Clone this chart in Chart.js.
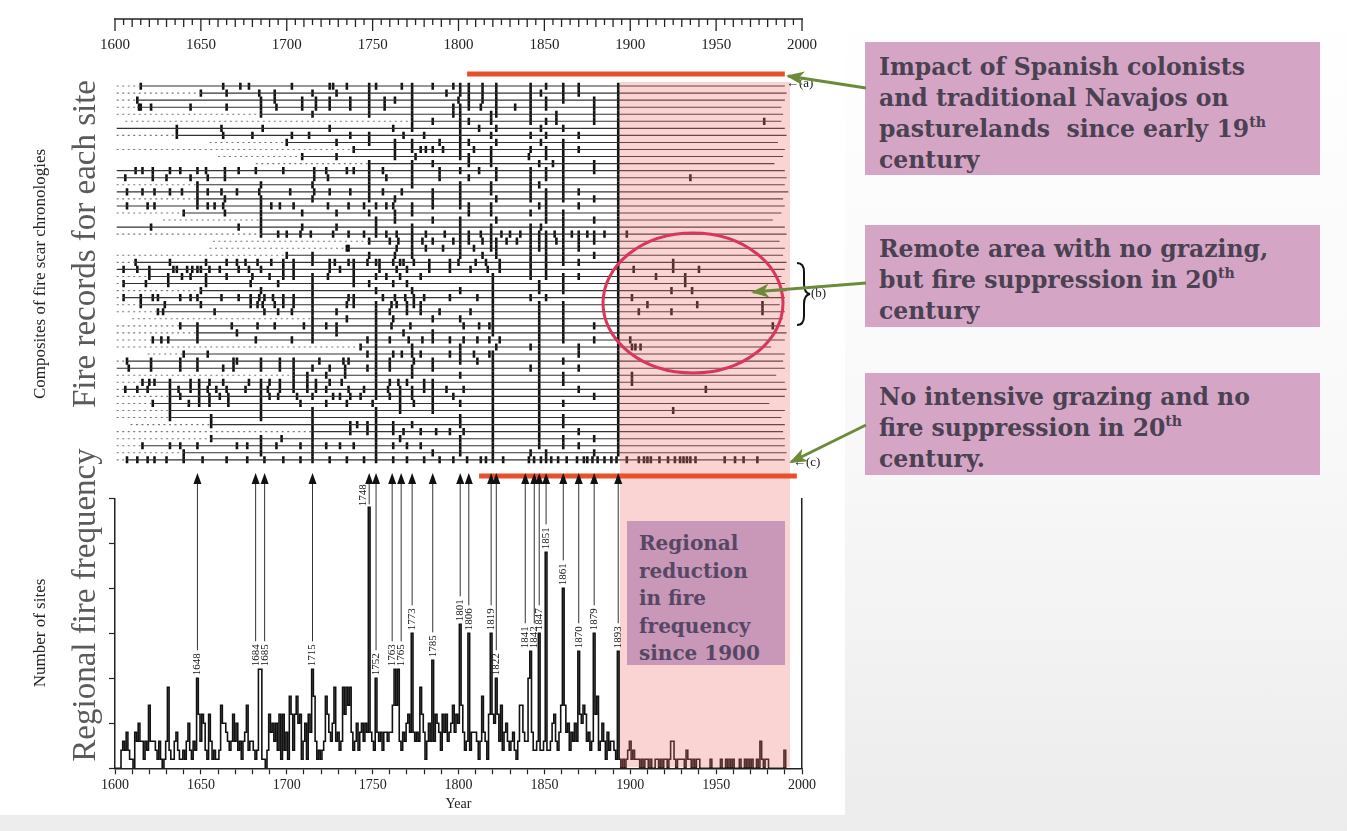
<!DOCTYPE html>
<html>
<head>
<meta charset="utf-8">
<script src="https://cdn.jsdelivr.net/npm/chart.js@4.4.0/dist/chart.umd.min.js"></script>
<style>
html, body { margin: 0; padding: 0; }
body { width: 1347px; height: 831px; overflow: hidden; position: relative;
       background: linear-gradient(#ffffff 0%, #f8f8f8 55%, #ececec 100%); }
#paper { position: absolute; left: 0; top: 0; width: 845px; height: 815px; background: #fff; }
canvas { position: absolute; left: 0; }
#topCanvas { top: 0; }
#botCanvas { top: 470px; }
.note { position: absolute; left: 865px; width: 455px; background: #d5a5c5; color: #4a4152;
        font: bold 23.5px/31px "DejaVu Serif", serif; padding: 10px 0 0 14px; box-sizing: border-box; white-space: nowrap; }
.note sup, .regional sup { font-size: 0.6em; line-height: 0; vertical-align: 0.7em; }
.regional { position: absolute; left: 627px; top: 521px; width: 158px; height: 144px; background: #c997b7;
            color: #564766; font: bold 20px/27.5px "DejaVu Serif", serif; padding: 9px 0 0 12px; box-sizing: border-box; white-space: nowrap; }
.rot { position: absolute; white-space: nowrap; transform: translate(-50%, -50%) rotate(-90deg);
       font-family: "Liberation Serif", serif; }
.small { position: absolute; font: 13px "Liberation Serif", serif; color: #222; white-space: nowrap; }
svg { position: absolute; left: 0; top: 0; }
</style>
</head>
<body>
<div id="paper"></div>
<canvas id="topCanvas" width="840" height="470"></canvas>
<canvas id="botCanvas" width="840" height="345"></canvas>

<div class="rot" style="left:84px; top:244px; font-size:33px; color:#5a5a5a;">Fire records for each site</div>
<div class="rot" style="left:84px; top:605px; font-size:33px; color:#5a5a5a;">Regional fire frequency</div>
<div class="rot" style="left:40px; top:274px; font-size:17px; color:#222;">Composites of fire scar chronologies</div>
<div class="rot" style="left:40px; top:633px; font-size:17px; color:#222;">Number of sites</div>

<div class="small" style="left:786px; top:75px;">&larr;(a)</div>
<div class="small" style="left:811px; top:285px;">(b)</div>
<div class="small" style="left:793px; top:454px;">&larr;(c)</div>

<div class="regional">Regional<br>reduction<br>in fire<br>frequency<br>since 1900</div>

<div class="note" style="top:42px; height:133px;">Impact of Spanish colonists<br>and traditional Navajos on<br>pasturelands&nbsp; since early 19<sup>th</sup><br>century</div>
<div class="note" style="top:225px; height:102px; padding-top:9px;">Remote area with no grazing,<br>but fire suppression in 20<sup>th</sup><br>century</div>
<div class="note" style="top:373px; height:102px; padding-top:9px;">No intensive grazing and no<br>fire suppression in 20<sup>th</sup><br>century.</div>

<svg width="1347" height="831">
  <defs>
    <marker id="ah" markerUnits="userSpaceOnUse" markerWidth="18" markerHeight="14" viewBox="0 0 18 14" refX="16" refY="7" orient="auto">
      <path d="M0,0 L18,7 L0,14 L5,7 z" fill="#6c8b3a"/>
    </marker>
  </defs>
  <ellipse cx="693" cy="303" rx="90" ry="70" fill="none" stroke="#d8365c" stroke-width="3"/>
  <path d="M797,263 q7,0 7,9 v12 q0,9 6,10 q-6,1 -6,10 v12 q0,9 -7,9" fill="none" stroke="#111" stroke-width="2"/>
  <line x1="866" y1="88" x2="788" y2="76" stroke="#6c8b3a" stroke-width="3" marker-end="url(#ah)"/>
  <line x1="866" y1="283" x2="753" y2="292" stroke="#6c8b3a" stroke-width="3" marker-end="url(#ah)"/>
  <line x1="866" y1="425" x2="791" y2="462" stroke="#6c8b3a" stroke-width="3" marker-end="url(#ah)"/>
</svg>

<script>
// ---- data ----

// fire record for each site (row 0 at the top)
const siteDotStart = [1601,1601,1601,1601,1601,1606,1601,1601,1655,1601,1660,1682,1601,1601,1601,1601,1601,1601,
                      1601,1628,1601,1601,1657,1655,1601,1601,1601,1601,1601,1601,1601,1601,1601,1610,1601,1601,
                      1601,1601,1619,1601,1601,1601,1601,1601,1601,1601,1601,1601,1609,1601,1601,1601,1601,1601];
const siteStart = [1615,1650,1613,1613,1685,1773,1601,1636,1700,1739,1709,1748,1601,1601,1648,1601,1648,1601,
                   1640,1685,1601,1685,1748,1735,1700,1612,1601,1620,1605,1650,1605,1615,1625,1715,1638,1648,
                   1622,1743,1640,1607,1601,1704,1616,1606,1632,1622,1632,1632,1656,1715,1656,1616,1640,1607];
const siteEnd = [1990,1991,1990,1988,1989,1988,1990,1991,1986,1990,1989,1984,1990,1991,1990,1992,1989,1990,
                 1988,1983,1990,1991,1987,1990,1989,1991,1990,1988,1990,1991,1990,1987,1990,1989,1990,1991,
                 1990,1982,1990,1989,1990,1985,1990,1991,1990,1981,1990,1988,1990,1989,1990,1990,1991,1990];
const siteFires = [
  [1615,1663,1673,1678,1703,1725,1727,1735,1748,1752,1767,1773,1785,1797,1801,1806,1814,1822,1842,1851,1861,1870,1893],
  [1650,1665,1684,1693,1715,1729,1748,1773,1793,1801,1806,1814,1822,1842,1848,1861,1870,1893],
  [1613,1685,1693,1709,1717,1725,1737,1748,1757,1763,1773,1800,1806,1814,1822,1842,1851,1861,1879,1893],
  [1614,1615,1621,1644,1665,1685,1694,1709,1717,1725,1737,1748,1757,1773,1797,1801,1806,1813,1822,1833,1842,1851,1879,1893],
  [1685,1715,1748,1773,1797,1801,1819,1822,1842,1857,1879,1893],
  [1773,1785,1801,1806,1819,1842,1851,1857,1879,1893,1978],
  [1636,1662,1686,1725,1762,1773,1801,1812,1822,1848,1861,1893],
  [1636,1663,1680,1703,1713,1737,1748,1768,1780,1801,1819,1842,1851,1870,1893],
  [1700,1729,1748,1763,1773,1789,1801,1806,1822,1848,1861,1893],
  [1739,1763,1773,1778,1781,1785,1791,1801,1809,1819,1842,1851,1861,1870,1893],
  [1709,1729,1763,1775,1801,1806,1819,1841,1851,1861,1893],
  [1748,1773,1785,1806,1819,1847,1855,1861,1879,1893],
  [1612,1616,1622,1632,1638,1648,1653,1664,1672,1682,1698,1716,1723,1735,1739,1748,1756,1773,1789,1801,1812,1822,1842,1851,1861,1879,1893],
  [1606,1622,1630,1644,1654,1664,1716,1724,1748,1758,1773,1789,1806,1822,1842,1851,1861,1893,1935],
  [1648,1685,1715,1748,1773,1801,1819,1842,1847,1861,1893],
  [1607,1616,1623,1632,1639,1648,1654,1662,1671,1684,1702,1716,1725,1737,1748,1756,1767,1785,1801,1819,1842,1851,1861,1870,1893],
  [1648,1664,1685,1715,1748,1763,1785,1801,1822,1842,1851,1861,1879,1893],
  [1607,1619,1623,1648,1654,1658,1663,1685,1691,1696,1704,1724,1736,1745,1752,1758,1762,1773,1785,1801,1806,1819,1847,1851,1870,1893],
  [1640,1664,1685,1709,1729,1748,1763,1773,1806,1819,1842,1851,1861,1893],
  [1685,1752,1763,1785,1801,1822,1851,1861,1879,1893],
  [1621,1672,1685,1709,1729,1752,1773,1801,1819,1842,1848,1861,1893],
  [1685,1695,1700,1708,1714,1727,1736,1745,1752,1758,1764,1773,1781,1792,1801,1806,1813,1819,1825,1830,1836,1842,1847,1851,1856,1861,1866,1870,1875,1879,1885,1893,1898],
  [1748,1760,1765,1773,1779,1785,1797,1801,1806,1814,1819,1822,1828,1834,1842,1847,1851,1857,1861,1870,1879,1893],
  [1735,1736,1764,1773,1781,1791,1801,1809,1819,1822,1842,1847,1851,1861,1870,1893],
  [1700,1715,1748,1763,1773,1801,1814,1822,1842,1851,1861,1879,1893],
  [1612,1632,1653,1665,1671,1676,1683,1691,1698,1704,1715,1725,1728,1736,1739,1747,1752,1754,1762,1766,1768,1774,1783,1795,1800,1810,1816,1824,1842,1851,1861,1870,1893,1925],
  [1605,1613,1620,1634,1636,1642,1645,1648,1650,1655,1661,1672,1678,1685,1698,1704,1725,1731,1739,1754,1764,1770,1783,1795,1807,1817,1824,1842,1851,1893,1902,1925,1940],
  [1620,1631,1639,1644,1653,1665,1680,1690,1698,1704,1715,1724,1739,1752,1758,1766,1778,1820,1842,1851,1861,1870,1893,1915,1932],
  [1605,1618,1631,1653,1679,1695,1715,1739,1748,1762,1770,1820,1847,1861,1893,1932],
  [1650,1685,1715,1752,1773,1801,1820,1847,1861,1893,1924,1936],
  [1605,1615,1622,1625,1638,1644,1648,1662,1672,1679,1684,1687,1692,1698,1704,1715,1736,1739,1756,1763,1769,1774,1780,1795,1811,1820,1842,1851,1893,1901],
  [1615,1629,1650,1679,1683,1686,1693,1698,1704,1715,1735,1739,1752,1761,1764,1770,1774,1778,1820,1847,1861,1893,1910,1939,1977],
  [1625,1628,1658,1687,1695,1703,1715,1729,1752,1760,1770,1778,1789,1807,1820,1847,1861,1893,1905,1924,1977],
  [1715,1735,1752,1762,1785,1801,1820,1847,1861,1893],
  [1638,1648,1668,1683,1693,1710,1715,1723,1729,1752,1761,1772,1803,1812,1818,1820,1847,1861,1879,1893,1983],
  [1648,1671,1715,1729,1752,1768,1785,1820,1847,1861,1893],
  [1622,1627,1631,1648,1682,1703,1715,1747,1752,1760,1771,1779,1785,1795,1803,1811,1818,1824,1847,1861,1879,1893,1900],
  [1743,1752,1773,1801,1822,1842,1847,1870,1893,1901,1903,1906],
  [1640,1654,1747,1752,1762,1767,1773,1778,1795,1801,1809,1818,1820,1847,1870,1893],
  [1607,1621,1638,1648,1669,1671,1685,1696,1704,1719,1733,1736,1752,1760,1774,1785,1801,1811,1820,1847,1861,1893],
  [1608,1621,1638,1648,1663,1669,1685,1696,1704,1715,1725,1734,1747,1752,1760,1773,1785,1820,1842,1847,1870,1893],
  [1704,1712,1723,1734,1752,1773,1801,1820,1847,1861,1893,1901],
  [1616,1620,1623,1632,1644,1649,1655,1663,1678,1685,1690,1696,1704,1712,1717,1725,1732,1752,1760,1765,1770,1780,1785,1820,1847,1861,1893,1901],
  [1606,1613,1619,1632,1637,1644,1649,1654,1659,1665,1676,1685,1689,1696,1704,1712,1717,1723,1736,1745,1752,1759,1766,1773,1780,1785,1793,1803,1820,1847,1870,1893,1944],
  [1632,1638,1649,1655,1661,1666,1685,1690,1695,1706,1715,1727,1731,1737,1743,1752,1760,1766,1773,1785,1797,1820,1847,1879,1893],
  [1622,1632,1643,1649,1655,1666,1685,1708,1723,1735,1750,1766,1774,1785,1801,1820,1847,1861,1893],
  [1632,1685,1715,1752,1766,1785,1820,1847,1893,1925],
  [1632,1656,1685,1715,1752,1801,1820,1847,1861,1893],
  [1656,1715,1737,1741,1747,1752,1762,1773,1801,1820,1847,1861,1893],
  [1715,1737,1747,1752,1762,1768,1778,1787,1795,1803,1820,1847,1870,1893],
  [1656,1685,1697,1715,1752,1766,1801,1820,1847,1861,1879,1893],
  [1616,1632,1638,1648,1671,1677,1685,1694,1708,1715,1723,1731,1739,1752,1762,1770,1778,1801,1820,1847,1861,1870,1893],
  [1640,1685,1715,1752,1785,1801,1820,1842,1851,1879,1893],
  [1607,1613,1619,1623,1630,1640,1651,1665,1677,1687,1698,1708,1715,1725,1735,1745,1752,1762,1770,1780,1789,1797,1805,1813,1816,1820,1826,1841,1844,1848,1851,1854,1858,1863,1869,1873,1875,1878,1881,1885,1889,1892,1898,1905,1908,1910,1912,1917,1922,1926,1929,1931,1933,1935,1938,1955,1961,1966,1974]
];

// regional fire frequency: number of sites recording a fire, one value per year from 1600
const countFirstYear = 1600;
const siteCounts = [
  0,0,0,0,2,3,2,4,2,1,   1,0,4,3,5,3,3,1,3,2,   7,3,3,3,2,1,3,1,0,1,   3,9,2,1,1,3,4,2,1,1,
  2,1,3,5,2,1,3,2,10,6,  3,6,5,2,1,6,3,1,2,1,   1,2,7,5,5,4,3,2,3,6,   3,5,2,3,1,3,4,7,2,3,
  3,2,1,2,11,11,1,1,0,2, 6,4,5,3,5,2,6,1,6,2,   4,1,8,6,2,6,8,5,6,1,   3,5,1,6,4,11,8,3,1,2,
  1,2,3,8,6,4,3,5,9,3,   4,2,3,9,6,9,7,9,4,2,   3,5,2,4,5,3,5,4,29,4,  3,2,10,4,3,4,2,4,4,3,
  4,4,7,11,7,11,3,2,4,3, 5,6,4,15,4,3,4,3,9,6,  4,1,3,5,3,12,3,6,5,4,  2,6,4,6,3,4,5,7,4,6,
  5,16,7,4,2,3,15,2,4,4, 4,3,1,3,8,4,3,1,6,15,  6,5,10,6,3,7,2,4,5,3,  2,3,4,2,1,3,7,7,4,3,
  3,10,13,4,2,2,3,15,2,2, 3,24,2,2,3,5,6,3,2,4, 7,20,7,4,5,2,4,3,5,3,  13,6,5,7,6,3,4,2,3,15,
  6,8,2,3,5,3,1,4,2,3,   3,2,1,13,1,0,1,0,1,2,  3,1,2,1,1,1,0,1,0,1,   1,0,1,0,0,1,1,0,1,0,
  1,1,0,1,3,3,1,0,1,1,   1,1,0,2,1,1,0,1,0,1,   1,0,0,0,0,0,0,1,0,0,   0,0,0,1,0,0,1,0,1,0,
  1,0,0,0,1,0,0,1,0,1,   0,1,0,0,1,0,3,1,0,1,   1,0,0,0,0,0,0,0,0,0,   2,0
];

// major regional fire years labelled above the peaks
const labelYears = [1648,1684,1685,1715,1748,1752,1763,1765,1773,1785,1801,1806,1819,1822,1841,1842,1847,1851,1861,1870,1879,1893];

// shaded 20th century band and the two red bars
const pinkFrom = 1894, pinkTo = 1993;
const redTop = [1805, 1990];
const redBottom = [1812, 1997];

Chart.defaults.font.family = '"Liberation Serif", serif';
Chart.defaults.color = '#222';

const PINK = 'rgba(240,110,110,0.30)';
const RED = '#e8502a';

// ---- top panel: one line per site, fire scars as short vertical bars ----
const datasets = [];
for (let i = 0; i < siteStart.length; i++) {
  if (siteDotStart[i] < siteStart[i]) {
    datasets.push({
      data: [{x: siteDotStart[i], y: i}, {x: siteStart[i], y: i}],
      showLine: true, borderColor: '#777', borderWidth: 1.1, borderDash: [2, 3.5], pointRadius: 0
    });
  }
  datasets.push({
    data: [{x: siteStart[i], y: i}, {x: siteEnd[i], y: i}],
    showLine: true, borderColor: '#333', borderWidth: 1.1, pointRadius: 0
  });
}
const scars = [];
siteFires.forEach((list, i) => list.forEach(yr => scars.push({x: yr, y: i})));
datasets.push({
  data: scars, pointStyle: 'line', pointRotation: 90, pointRadius: 3.6,
  pointBorderWidth: 2.6, pointBorderColor: '#111', showLine: false
});

const topDecor = {
  id: 'topDecor',
  afterDatasetsDraw(chart) {
    const ctx = chart.ctx, xs = chart.scales.x;
    const X = v => xs.getPixelForValue(v);
    ctx.save();
    // pink band
    ctx.fillStyle = PINK;
    ctx.fillRect(X(pinkFrom), 82, X(pinkTo) - X(pinkFrom), chart.height - 82);
    // red bar (a)
    ctx.strokeStyle = RED; ctx.lineWidth = 5;
    ctx.beginPath(); ctx.moveTo(X(redTop[0]), 74); ctx.lineTo(X(redTop[1]), 74); ctx.stroke();
    // ruler axis at the top
    ctx.strokeStyle = '#222'; ctx.lineWidth = 1.6;
    ctx.beginPath(); ctx.moveTo(X(1600) - 1, 19); ctx.lineTo(X(2000) + 1, 19); ctx.stroke();
    ctx.lineWidth = 1.3;
    for (let yr = 1600; yr <= 2000; yr += 5) {
      const len = yr % 50 === 0 ? 12 : (yr % 10 === 0 ? 8 : 6);
      ctx.beginPath(); ctx.moveTo(X(yr), 19); ctx.lineTo(X(yr), 19 + len); ctx.stroke();
    }
    ctx.fillStyle = '#222'; ctx.font = '15px "Liberation Serif"';
    ctx.textAlign = 'center'; ctx.textBaseline = 'middle';
    for (let yr = 1600; yr <= 2000; yr += 50) ctx.fillText(String(yr), X(yr), 45);
    ctx.restore();
  }
};

new Chart(document.getElementById('topCanvas'), {
  type: 'scatter',
  data: { datasets: datasets },
  options: {
    responsive: false, animation: false, events: [],
    layout: { padding: { left: 115, right: 38, top: 82.5, bottom: 4.5 } },
    scales: {
      x: { type: 'linear', min: 1600, max: 2000, display: false },
      y: { type: 'linear', min: -0.5, max: 53.5, reverse: true, display: false }
    },
    plugins: { legend: { display: false }, tooltip: { enabled: false } }
  },
  plugins: [topDecor]
});

// ---- bottom panel: regional fire frequency ----
const countPoints = siteCounts.map((v, i) => ({x: countFirstYear + i, y: v}));

const bottomDecor = {
  id: 'bottomDecor',
  afterDatasetsDraw(chart) {
    const ctx = chart.ctx, xs = chart.scales.x, ys = chart.scales.y, area = chart.chartArea;
    const X = v => xs.getPixelForValue(v);
    const count = yr => siteCounts[yr - countFirstYear];
    ctx.save();
    ctx.fillStyle = PINK;
    ctx.fillRect(X(pinkFrom), 0, X(pinkTo) - X(pinkFrom), area.bottom - 1);
    ctx.strokeStyle = RED; ctx.lineWidth = 5;
    ctx.beginPath(); ctx.moveTo(X(redBottom[0]), 6); ctx.lineTo(X(redBottom[1]), 6); ctx.stroke();

    // group neighbouring years so their labels sit side by side
    const groups = [];
    labelYears.forEach(yr => {
      const g = groups[groups.length - 1];
      if (g && yr - g[g.length - 1] <= 2) g.push(yr); else groups.push([yr]);
    });
    ctx.font = '11px "Liberation Serif"';
    ctx.fillStyle = '#111'; ctx.strokeStyle = '#333'; ctx.lineWidth = 1;
    groups.forEach(g => {
      const base = Math.min(...g.map(yr => ys.getPixelForValue(count(yr)))) - 3;
      const mid = (X(g[0]) + X(g[g.length - 1])) / 2;
      g.forEach((yr, k) => {
        const txt = String(yr);
        const w = ctx.measureText(txt).width;
        const x = g.length > 1 ? mid + (k - (g.length - 1) / 2) * 9 : X(yr);
        const noRoom = base - w < area.top + 4;
        ctx.save();
        // no room above the peak: label goes on the left side of the bar
        if (noRoom) ctx.translate(X(yr) - 6, base + 2); else ctx.translate(x, base);
        ctx.rotate(-Math.PI / 2);
        ctx.textAlign = 'left'; ctx.textBaseline = 'middle';
        ctx.fillText(txt, 0, 0);
        ctx.restore();
        const lx = noRoom ? X(yr) : x;
        const lineFrom = noRoom ? base : base - w - 3;
        ctx.beginPath(); ctx.moveTo(lx, lineFrom); ctx.lineTo(lx, 12); ctx.stroke();
        ctx.beginPath(); ctx.moveTo(lx, 3); ctx.lineTo(lx - 4, 14); ctx.lineTo(lx + 4, 14); ctx.closePath(); ctx.fill();
      });
    });
    ctx.restore();
  }
};

new Chart(document.getElementById('botCanvas'), {
  type: 'line',
  data: {
    datasets: [{
      data: countPoints, stepped: 'middle', borderColor: '#111', borderWidth: 1.6,
      pointRadius: 0, fill: false
    }]
  },
  options: {
    responsive: false, animation: false, events: [],
    layout: { padding: { left: 0, right: 38, top: 28.3, bottom: 0 } },
    scales: {
      x: {
        type: 'linear', min: 1600, max: 2000,
        ticks: { stepSize: 10, autoSkip: false, maxRotation: 0, color: '#222', font: { size: 14 },
                 callback: v => (v % 50 === 0 ? String(v) : '') },
        grid: { drawOnChartArea: false, tickLength: 6, color: '#222', tickWidth: 1.2 },
        border: { color: '#222', width: 1.5 },
        title: { display: true, text: 'Year', color: '#222', font: { size: 14 }, padding: { top: 0, bottom: 2 } },
        afterFit: s => { s.height = 46.7; }
      },
      y: {
        min: 0, max: 30,
        ticks: { stepSize: 5, display: false },
        grid: { drawOnChartArea: false, tickLength: 6, color: '#222', tickWidth: 1.2 },
        border: { color: '#222', width: 1.5 },
        afterFit: s => { s.width = 115; }
      },
      yRight: {
        position: 'right', min: 0, max: 30,
        ticks: { display: false }, grid: { display: false },
        border: { display: true, color: '#222', width: 1.5 },
        afterFit: s => { s.width = 0; }
      }
    },
    plugins: { legend: { display: false }, tooltip: { enabled: false } }
  },
  plugins: [bottomDecor]
});
</script>
</body>
</html>
